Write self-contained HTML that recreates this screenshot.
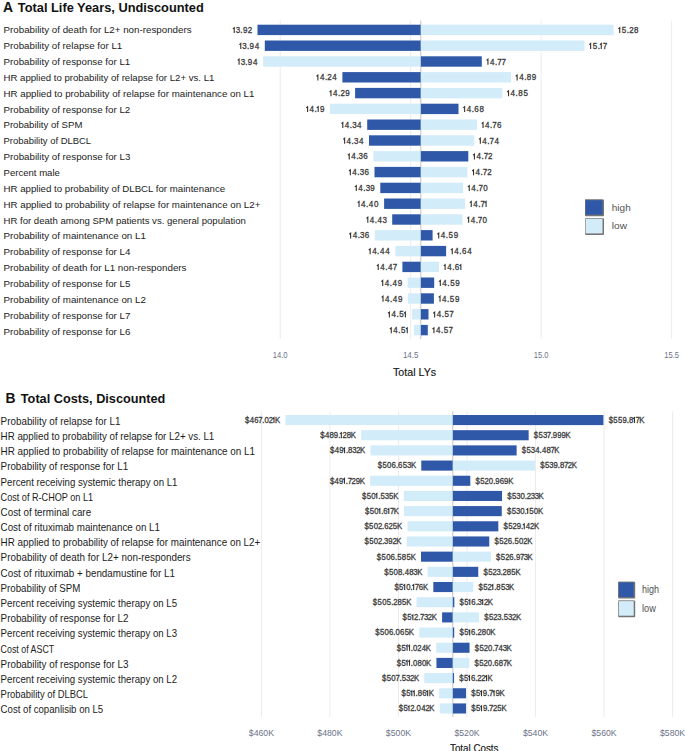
<!DOCTYPE html>
<html><head><meta charset="utf-8"><style>
*{margin:0;padding:0}
html,body{width:685px;height:751px;background:#fff;overflow:hidden}
svg{display:block;font-family:"Liberation Sans",sans-serif}
.d{fill:#2f58a8} .l{fill:#d3ecfa}
.g{fill:#ececec} .c{fill:#c2c2c2}
.v{fill:#3d3d3d;stroke:#3d3d3d;stroke-width:0.32px}
.one{fill:none;stroke:#333;stroke-width:1.1px}
.lab{fill:#1c1c1c}
.tk{fill:#6b7388}
.ttl{fill:#111}
.at{fill:#161616;stroke:#161616;stroke-width:0.15px}
.lt{fill:#505050}
</style></head>
<body><svg width="685" height="751" viewBox="0 0 685 751">
<rect class="g" x="279.70" y="20.70" width="1" height="318.30"/>
<text class="tk" x="280.20" y="358.30" font-size="9.4" textLength="14.80" lengthAdjust="spacingAndGlyphs" text-anchor="middle">14.0</text>
<rect class="g" x="410.17" y="20.70" width="1" height="318.30"/>
<text class="tk" x="410.67" y="358.30" font-size="9.4" textLength="15.50" lengthAdjust="spacingAndGlyphs" text-anchor="middle">14.5</text>
<rect class="g" x="540.64" y="20.70" width="1" height="318.30"/>
<text class="tk" x="541.14" y="358.30" font-size="9.4" textLength="14.80" lengthAdjust="spacingAndGlyphs" text-anchor="middle">15.0</text>
<rect class="g" x="671.11" y="20.70" width="1" height="318.30"/>
<text class="tk" x="671.61" y="358.30" font-size="9.4" textLength="14.80" lengthAdjust="spacingAndGlyphs" text-anchor="middle">15.5</text>
<rect class="c" x="420.30" y="20.70" width="1" height="318.30"/>
<rect class="d" x="257.50" y="24.70" width="163.30" height="10.40"/>
<rect class="l" x="420.80" y="24.70" width="192.80" height="10.40"/>
<text class="v" transform="scale(0.92,1)" x="256.34 261.28 264.10 269.31" y="33.10" font-size="8.7">3.92</text>
<path class="one" d="M232.84 28.81 L234.24 27.66 L234.24 33.10"/>
<text class="v" transform="scale(0.92,1)" x="675.84 681.30 683.91 689.17" y="33.10" font-size="8.7">5.28</text>
<path class="one" d="M618.34 28.81 L619.74 27.66 L619.74 33.10"/>
<text class="lab" transform="translate(3.50,33.20) scale(1,0.95)" x="0" y="0" font-size="9.74" textLength="188.10" lengthAdjust="spacingAndGlyphs">Probability of death for L2+ non-responders</text>
<rect class="d" x="264.80" y="40.50" width="156.00" height="10.40"/>
<rect class="l" x="420.80" y="40.50" width="163.70" height="10.40"/>
<text class="v" transform="scale(0.92,1)" x="263.45 268.39 271.21 276.86" y="48.90" font-size="8.7">3.94</text>
<path class="one" d="M239.39 44.61 L240.79 43.46 L240.79 48.90"/>
<text class="v" transform="scale(0.92,1)" x="644.21 649.67 655.12" y="48.90" font-size="8.7">5.7</text>
<path class="one" d="M589.24 44.61 L590.64 43.46 L590.64 48.90"/>
<path class="one" d="M599.86 44.61 L601.26 43.46 L601.26 48.90"/>
<text class="lab" transform="translate(3.50,49.06) scale(1,0.95)" x="0" y="0" font-size="9.74" textLength="118.80" lengthAdjust="spacingAndGlyphs">Probability of relapse for L1</text>
<rect class="l" x="263.10" y="56.30" width="157.70" height="10.40"/>
<rect class="d" x="420.80" y="56.30" width="61.00" height="10.40"/>
<text class="v" transform="scale(0.92,1)" x="261.60 266.54 269.36 275.02" y="64.70" font-size="8.7">3.94</text>
<path class="one" d="M237.69 60.41 L239.09 59.26 L239.09 64.70"/>
<text class="v" transform="scale(0.92,1)" x="532.57 537.99 540.41 545.06" y="64.70" font-size="8.7">4.77</text>
<path class="one" d="M486.54 60.41 L487.94 59.26 L487.94 64.70"/>
<text class="lab" transform="translate(3.50,64.92) scale(1,0.95)" x="0" y="0" font-size="9.74" textLength="126.80" lengthAdjust="spacingAndGlyphs">Probability of response for L1</text>
<rect class="d" x="342.40" y="72.10" width="78.40" height="10.40"/>
<rect class="l" x="420.80" y="72.10" width="90.20" height="10.40"/>
<text class="v" transform="scale(0.92,1)" x="347.74 353.15 355.76 361.21" y="80.50" font-size="8.7">4.24</text>
<path class="one" d="M316.49 76.21 L317.89 75.06 L317.89 80.50"/>
<text class="v" transform="scale(0.92,1)" x="564.31 569.73 572.59 578.06" y="80.50" font-size="8.7">4.89</text>
<path class="one" d="M515.74 76.21 L517.14 75.06 L517.14 80.50"/>
<text class="lab" transform="translate(3.50,80.78) scale(1,0.95)" x="0" y="0" font-size="9.74" textLength="210.90" lengthAdjust="spacingAndGlyphs">HR applied to probability of relapse for L2+ vs. L1</text>
<rect class="d" x="355.10" y="87.90" width="65.70" height="10.40"/>
<rect class="l" x="420.80" y="87.90" width="81.60" height="10.40"/>
<text class="v" transform="scale(0.92,1)" x="361.95 367.37 369.98 375.20" y="96.30" font-size="8.7">4.29</text>
<path class="one" d="M329.57 92.01 L330.97 90.86 L330.97 96.30"/>
<text class="v" transform="scale(0.92,1)" x="554.97 560.38 563.24 568.95" y="96.30" font-size="8.7">4.85</text>
<path class="one" d="M507.14 92.01 L508.54 90.86 L508.54 96.30"/>
<text class="lab" transform="translate(3.50,96.64) scale(1,0.95)" x="0" y="0" font-size="9.74" textLength="250.90" lengthAdjust="spacingAndGlyphs">HR applied to probability of relapse for maintenance on L1</text>
<rect class="l" x="329.90" y="103.70" width="90.90" height="10.40"/>
<rect class="d" x="420.80" y="103.70" width="37.70" height="10.40"/>
<text class="v" transform="scale(0.92,1)" x="336.55 341.96 347.81" y="112.10" font-size="8.7">4.9</text>
<path class="one" d="M306.20 107.81 L307.60 106.66 L307.60 112.10"/>
<path class="one" d="M316.77 107.81 L318.17 106.66 L318.17 112.10"/>
<text class="v" transform="scale(0.92,1)" x="507.25 512.66 515.53 521.11" y="112.10" font-size="8.7">4.68</text>
<path class="one" d="M463.24 107.81 L464.64 106.66 L464.64 112.10"/>
<text class="lab" transform="translate(3.50,112.50) scale(1,0.95)" x="0" y="0" font-size="9.74" textLength="126.80" lengthAdjust="spacingAndGlyphs">Probability of response for L2</text>
<rect class="d" x="367.20" y="119.50" width="53.60" height="10.40"/>
<rect class="l" x="420.80" y="119.50" width="56.10" height="10.40"/>
<text class="v" transform="scale(0.92,1)" x="374.82 380.23 382.80 388.17" y="127.90" font-size="8.7">4.34</text>
<path class="one" d="M341.41 123.61 L342.81 122.46 L342.81 127.90"/>
<text class="v" transform="scale(0.92,1)" x="527.25 532.66 535.08 540.18" y="127.90" font-size="8.7">4.76</text>
<path class="one" d="M481.64 123.61 L483.04 122.46 L483.04 127.90"/>
<text class="lab" transform="translate(3.50,128.36) scale(1,0.95)" x="0" y="0" font-size="9.74" textLength="78.90" lengthAdjust="spacingAndGlyphs">Probability of SPM</text>
<rect class="d" x="369.00" y="135.30" width="51.80" height="10.40"/>
<rect class="l" x="420.80" y="135.30" width="53.40" height="10.40"/>
<text class="v" transform="scale(0.92,1)" x="376.77 382.19 384.76 390.12" y="143.70" font-size="8.7">4.34</text>
<path class="one" d="M343.21 139.41 L344.61 138.26 L344.61 143.70"/>
<text class="v" transform="scale(0.92,1)" x="524.31 529.73 532.15 537.43" y="143.70" font-size="8.7">4.74</text>
<path class="one" d="M478.94 139.41 L480.34 138.26 L480.34 143.70"/>
<text class="lab" transform="translate(3.50,144.22) scale(1,0.95)" x="0" y="0" font-size="9.74" textLength="87.60" lengthAdjust="spacingAndGlyphs">Probability of DLBCL</text>
<rect class="l" x="373.40" y="151.10" width="47.40" height="10.40"/>
<rect class="d" x="420.80" y="151.10" width="47.50" height="10.40"/>
<text class="v" transform="scale(0.92,1)" x="381.81 387.22 389.79 394.97" y="159.50" font-size="8.7">4.36</text>
<path class="one" d="M347.84 155.21 L349.24 154.06 L349.24 159.50"/>
<text class="v" transform="scale(0.92,1)" x="517.90 523.31 525.74 530.57" y="159.50" font-size="8.7">4.72</text>
<path class="one" d="M473.04 155.21 L474.44 154.06 L474.44 159.50"/>
<text class="lab" transform="translate(3.50,160.08) scale(1,0.95)" x="0" y="0" font-size="9.74" textLength="126.90" lengthAdjust="spacingAndGlyphs">Probability of response for L3</text>
<rect class="d" x="374.50" y="166.90" width="46.30" height="10.40"/>
<rect class="l" x="420.80" y="166.90" width="46.60" height="10.40"/>
<text class="v" transform="scale(0.92,1)" x="383.00 388.42 390.99 396.17" y="175.30" font-size="8.7">4.36</text>
<path class="one" d="M348.94 171.01 L350.34 169.86 L350.34 175.30"/>
<text class="v" transform="scale(0.92,1)" x="516.92 522.34 524.76 529.59" y="175.30" font-size="8.7">4.72</text>
<path class="one" d="M472.14 171.01 L473.54 169.86 L473.54 175.30"/>
<text class="lab" transform="translate(3.50,175.94) scale(1,0.95)" x="0" y="0" font-size="9.74" textLength="56.40" lengthAdjust="spacingAndGlyphs">Percent male</text>
<rect class="d" x="380.30" y="182.70" width="40.50" height="10.40"/>
<rect class="l" x="420.80" y="182.70" width="42.30" height="10.40"/>
<text class="v" transform="scale(0.92,1)" x="389.47 394.88 397.45 402.59" y="191.10" font-size="8.7">4.39</text>
<path class="one" d="M354.89 186.81 L356.29 185.66 L356.29 191.10"/>
<text class="v" transform="scale(0.92,1)" x="512.25 517.66 520.08 525.21" y="191.10" font-size="8.7">4.70</text>
<path class="one" d="M467.84 186.81 L469.24 185.66 L469.24 191.10"/>
<text class="lab" transform="translate(3.50,191.80) scale(1,0.95)" x="0" y="0" font-size="9.74" textLength="221.60" lengthAdjust="spacingAndGlyphs">HR applied to probability of DLBCL for maintenance</text>
<rect class="d" x="384.10" y="198.50" width="36.70" height="10.40"/>
<rect class="l" x="420.80" y="198.50" width="44.30" height="10.40"/>
<text class="v" transform="scale(0.92,1)" x="392.49 397.90 400.95 406.63" y="206.90" font-size="8.7">4.40</text>
<path class="one" d="M357.66 202.61 L359.06 201.46 L359.06 206.90"/>
<text class="v" transform="scale(0.92,1)" x="514.42 519.84 522.26" y="206.90" font-size="8.7">4.7</text>
<path class="one" d="M469.84 202.61 L471.24 201.46 L471.24 206.90"/>
<path class="one" d="M484.69 202.61 L486.09 201.46 L486.09 206.90"/>
<text class="lab" transform="translate(3.50,207.66) scale(1,0.95)" x="0" y="0" font-size="9.74" textLength="256.90" lengthAdjust="spacingAndGlyphs">HR applied to probability of relapse for maintenance on L2+</text>
<rect class="d" x="392.20" y="214.30" width="28.60" height="10.40"/>
<rect class="l" x="420.80" y="214.30" width="41.70" height="10.40"/>
<text class="v" transform="scale(0.92,1)" x="401.99 407.41 410.45 415.81" y="222.70" font-size="8.7">4.43</text>
<path class="one" d="M366.41 218.41 L367.81 217.26 L367.81 222.70"/>
<text class="v" transform="scale(0.92,1)" x="511.60 517.01 519.43 524.56" y="222.70" font-size="8.7">4.70</text>
<path class="one" d="M467.24 218.41 L468.64 217.26 L468.64 222.70"/>
<text class="lab" transform="translate(3.50,223.52) scale(1,0.95)" x="0" y="0" font-size="9.74" textLength="242.40" lengthAdjust="spacingAndGlyphs">HR for death among SPM patients vs. general population</text>
<rect class="l" x="374.80" y="230.10" width="46.00" height="10.40"/>
<rect class="d" x="420.80" y="230.10" width="11.80" height="10.40"/>
<text class="v" transform="scale(0.92,1)" x="383.33 388.74 391.31 396.50" y="238.50" font-size="8.7">4.36</text>
<path class="one" d="M349.24 234.21 L350.64 233.06 L350.64 238.50"/>
<text class="v" transform="scale(0.92,1)" x="479.10 484.51 487.56 493.21" y="238.50" font-size="8.7">4.59</text>
<path class="one" d="M437.34 234.21 L438.74 233.06 L438.74 238.50"/>
<text class="lab" transform="translate(3.50,239.38) scale(1,0.95)" x="0" y="0" font-size="9.74" textLength="142.40" lengthAdjust="spacingAndGlyphs">Probability of maintenance on L1</text>
<rect class="l" x="395.40" y="245.90" width="25.40" height="10.40"/>
<rect class="d" x="420.80" y="245.90" width="25.30" height="10.40"/>
<text class="v" transform="scale(0.92,1)" x="404.52 409.93 412.98 418.82" y="254.30" font-size="8.7">4.44</text>
<path class="one" d="M368.73 250.01 L370.13 248.86 L370.13 254.30"/>
<text class="v" transform="scale(0.92,1)" x="493.77 499.18 502.05 507.82" y="254.30" font-size="8.7">4.64</text>
<path class="one" d="M450.84 250.01 L452.24 248.86 L452.24 254.30"/>
<text class="lab" transform="translate(3.50,255.24) scale(1,0.95)" x="0" y="0" font-size="9.74" textLength="126.90" lengthAdjust="spacingAndGlyphs">Probability of response for L4</text>
<rect class="d" x="402.40" y="261.70" width="18.40" height="10.40"/>
<rect class="l" x="420.80" y="261.70" width="18.20" height="10.40"/>
<text class="v" transform="scale(0.92,1)" x="413.32 418.73 421.78 426.99" y="270.10" font-size="8.7">4.47</text>
<path class="one" d="M376.82 265.81 L378.22 264.66 L378.22 270.10"/>
<text class="v" transform="scale(0.92,1)" x="486.05 491.47 494.33" y="270.10" font-size="8.7">4.6</text>
<path class="one" d="M443.74 265.81 L445.14 264.66 L445.14 270.10"/>
<path class="one" d="M459.45 265.81 L460.85 264.66 L460.85 270.10"/>
<text class="lab" transform="translate(3.50,271.10) scale(1,0.95)" x="0" y="0" font-size="9.74" textLength="183.00" lengthAdjust="spacingAndGlyphs">Probability of death for L1 non-responders</text>
<rect class="l" x="407.60" y="277.50" width="13.20" height="10.40"/>
<rect class="d" x="420.80" y="277.50" width="13.40" height="10.40"/>
<text class="v" transform="scale(0.92,1)" x="418.19 423.61 426.66 432.26" y="285.90" font-size="8.7">4.49</text>
<path class="one" d="M381.31 281.61 L382.71 280.46 L382.71 285.90"/>
<text class="v" transform="scale(0.92,1)" x="480.83 486.25 489.30 494.95" y="285.90" font-size="8.7">4.59</text>
<path class="one" d="M438.94 281.61 L440.34 280.46 L440.34 285.90"/>
<text class="lab" transform="translate(3.50,286.96) scale(1,0.95)" x="0" y="0" font-size="9.74" textLength="126.90" lengthAdjust="spacingAndGlyphs">Probability of response for L5</text>
<rect class="l" x="407.90" y="293.30" width="12.90" height="10.40"/>
<rect class="d" x="420.80" y="293.30" width="13.10" height="10.40"/>
<text class="v" transform="scale(0.92,1)" x="418.52 423.93 426.98 432.59" y="301.70" font-size="8.7">4.49</text>
<path class="one" d="M381.61 297.41 L383.01 296.26 L383.01 301.70"/>
<text class="v" transform="scale(0.92,1)" x="480.51 485.92 488.98 494.63" y="301.70" font-size="8.7">4.59</text>
<path class="one" d="M438.64 297.41 L440.04 296.26 L440.04 301.70"/>
<text class="lab" transform="translate(3.50,302.82) scale(1,0.95)" x="0" y="0" font-size="9.74" textLength="142.40" lengthAdjust="spacingAndGlyphs">Probability of maintenance on L2</text>
<rect class="l" x="412.10" y="309.10" width="8.70" height="10.40"/>
<rect class="d" x="420.80" y="309.10" width="7.70" height="10.40"/>
<text class="v" transform="scale(0.92,1)" x="425.43 430.85 433.90" y="317.50" font-size="8.7">4.5</text>
<path class="one" d="M387.97 313.21 L389.37 312.06 L389.37 317.50"/>
<path class="one" d="M403.96 313.21 L405.36 312.06 L405.36 317.50"/>
<text class="v" transform="scale(0.92,1)" x="474.64 480.05 483.11 488.36" y="317.50" font-size="8.7">4.57</text>
<path class="one" d="M433.24 313.21 L434.64 312.06 L434.64 317.50"/>
<text class="lab" transform="translate(3.50,318.68) scale(1,0.95)" x="0" y="0" font-size="9.74" textLength="126.90" lengthAdjust="spacingAndGlyphs">Probability of response for L7</text>
<rect class="l" x="414.00" y="324.90" width="6.80" height="10.40"/>
<rect class="d" x="420.80" y="324.90" width="7.00" height="10.40"/>
<text class="v" transform="scale(0.92,1)" x="427.50 432.91 435.97" y="333.30" font-size="8.7">4.5</text>
<path class="one" d="M389.87 329.01 L391.27 327.86 L391.27 333.30"/>
<path class="one" d="M405.86 329.01 L407.26 327.86 L407.26 333.30"/>
<text class="v" transform="scale(0.92,1)" x="473.88 479.29 482.35 487.60" y="333.30" font-size="8.7">4.57</text>
<path class="one" d="M432.54 329.01 L433.94 327.86 L433.94 333.30"/>
<text class="lab" transform="translate(3.50,334.54) scale(1,0.95)" x="0" y="0" font-size="9.74" textLength="126.90" lengthAdjust="spacingAndGlyphs">Probability of response for L6</text>
<text class="ttl" x="3.00" y="12.40" font-size="13.9" font-weight="bold">A</text>
<text class="ttl" x="17.80" y="12.30" font-size="12.8" textLength="186.00" lengthAdjust="spacingAndGlyphs" font-weight="bold">Total Life Years, Undiscounted</text>
<text class="at" x="393.00" y="375.60" font-size="10.67" textLength="43.10" lengthAdjust="spacingAndGlyphs">Total LYs</text>
<rect x="585.00" y="199.50" width="19.00" height="16.70" rx="0.8" fill="#747474"/>
<rect x="585.00" y="199.50" width="17.60" height="15.30" fill="#66707f"/>
<rect class="d" x="585.80" y="200.30" width="16.60" height="14.30"/>
<rect x="585.00" y="218.20" width="19.00" height="16.70" rx="0.8" fill="#747474"/>
<rect x="585.00" y="218.20" width="17.60" height="15.30" fill="#9a9a9a"/>
<rect class="l" x="585.80" y="219.00" width="16.60" height="14.30"/>
<text class="lt" x="611.80" y="210.90" font-size="9.9" textLength="18.90" lengthAdjust="spacingAndGlyphs">high</text>
<text class="lt" x="611.80" y="228.90" font-size="9.9" textLength="15.20" lengthAdjust="spacingAndGlyphs">low</text>
<rect class="g" x="260.90" y="411.30" width="1" height="305.60"/>
<text class="tk" x="261.40" y="736.00" font-size="9.2" textLength="25.20" lengthAdjust="spacingAndGlyphs" text-anchor="middle">$460K</text>
<rect class="g" x="329.43" y="411.30" width="1" height="305.60"/>
<text class="tk" x="329.93" y="736.00" font-size="9.2" textLength="25.20" lengthAdjust="spacingAndGlyphs" text-anchor="middle">$480K</text>
<rect class="g" x="397.96" y="411.30" width="1" height="305.60"/>
<text class="tk" x="398.46" y="736.00" font-size="9.2" textLength="25.20" lengthAdjust="spacingAndGlyphs" text-anchor="middle">$500K</text>
<rect class="g" x="466.49" y="411.30" width="1" height="305.60"/>
<text class="tk" x="466.99" y="736.00" font-size="9.2" textLength="25.20" lengthAdjust="spacingAndGlyphs" text-anchor="middle">$520K</text>
<rect class="g" x="535.02" y="411.30" width="1" height="305.60"/>
<text class="tk" x="535.52" y="736.00" font-size="9.2" textLength="25.20" lengthAdjust="spacingAndGlyphs" text-anchor="middle">$540K</text>
<rect class="g" x="603.55" y="411.30" width="1" height="305.60"/>
<text class="tk" x="604.05" y="736.00" font-size="9.2" textLength="25.20" lengthAdjust="spacingAndGlyphs" text-anchor="middle">$560K</text>
<rect class="g" x="672.08" y="411.30" width="1" height="305.60"/>
<text class="tk" x="672.58" y="736.00" font-size="9.2" textLength="25.20" lengthAdjust="spacingAndGlyphs" text-anchor="middle">$580K</text>
<rect class="c" x="452.30" y="411.30" width="1" height="305.60"/>
<rect class="l" x="285.46" y="415.00" width="167.34" height="10.10"/>
<rect class="d" x="452.80" y="415.00" width="150.62" height="10.10"/>
<text class="v" transform="scale(0.9,1)" x="272.24 277.45 282.47 287.05 291.48 293.93 298.64 305.67" y="422.95" font-size="8.6">$467.02K</text>
<path class="one" d="M272.60 418.73 L274.00 417.58 L274.00 422.95"/>
<text class="v" transform="scale(0.9,1)" x="676.27 681.48 686.71 691.74 696.51 698.93 706.13 710.31" y="422.95" font-size="8.6">$559.87K</text>
<path class="one" d="M633.05 418.73 L634.45 417.58 L634.45 422.95"/>
<text class="lab" x="0.60" y="424.85" font-size="10.1" textLength="119.90" lengthAdjust="spacingAndGlyphs">Probability of relapse for L1</text>
<rect class="l" x="361.21" y="430.18" width="91.59" height="10.10"/>
<rect class="d" x="452.80" y="430.18" width="75.86" height="10.10"/>
<text class="v" transform="scale(0.9,1)" x="355.85 361.06 366.08 370.94 375.71 380.60 385.28 389.84" y="438.13" font-size="8.6">$489.28K</text>
<path class="one" d="M339.93 433.91 L341.33 432.76 L341.33 438.13"/>
<text class="v" transform="scale(0.9,1)" x="593.20 598.42 603.22 607.43 611.86 614.25 619.07 623.89 628.41" y="438.13" font-size="8.6">$537.999K</text>
<text class="lab" x="0.60" y="440.03" font-size="10.1" textLength="213.70" lengthAdjust="spacingAndGlyphs">HR applied to probability of relapse for L2+ vs. L1</text>
<rect class="l" x="370.47" y="445.36" width="82.33" height="10.10"/>
<rect class="d" x="452.80" y="445.36" width="63.83" height="10.10"/>
<text class="v" transform="scale(0.9,1)" x="366.70 371.91 376.89 384.35 386.77 391.42 395.79 400.13" y="453.31" font-size="8.6">$49.832K</text>
<path class="one" d="M343.18 449.09 L344.58 447.94 L344.58 453.31"/>
<text class="v" transform="scale(0.9,1)" x="579.83 585.04 589.85 594.62 599.55 602.14 607.16 611.67 615.85" y="453.31" font-size="8.6">$534.487K</text>
<text class="lab" x="0.60" y="455.21" font-size="10.1" textLength="254.40" lengthAdjust="spacingAndGlyphs">HR applied to probability of relapse for maintenance on L1</text>
<rect class="d" x="421.26" y="460.54" width="31.54" height="10.10"/>
<rect class="l" x="452.80" y="460.54" width="82.28" height="10.10"/>
<text class="v" transform="scale(0.9,1)" x="419.82 425.03 430.12 435.06 439.93 442.36 447.50 452.30 456.56" y="468.49" font-size="8.6">$506.653K</text>
<text class="v" transform="scale(0.9,1)" x="600.33 605.55 610.35 614.91 619.68 622.10 626.62 630.92 635.25" y="468.49" font-size="8.6">$539.872K</text>
<text class="lab" x="0.60" y="470.39" font-size="10.1" textLength="127.50" lengthAdjust="spacingAndGlyphs">Probability of response for L1</text>
<rect class="l" x="370.12" y="475.72" width="82.68" height="10.10"/>
<rect class="d" x="452.80" y="475.72" width="17.51" height="10.10"/>
<text class="v" transform="scale(0.9,1)" x="366.60 371.81 376.79 384.25 386.28 390.58 395.22 399.74" y="483.67" font-size="8.6">$49.729K</text>
<path class="one" d="M343.09 479.45 L344.49 478.30 L344.49 483.67"/>
<text class="v" transform="scale(0.9,1)" x="528.37 533.58 538.41 543.13 547.97 550.36 555.22 560.14 564.66" y="483.67" font-size="8.6">$520.969K</text>
<text class="lab" x="0.60" y="485.57" font-size="10.1" textLength="176.90" lengthAdjust="spacingAndGlyphs">Percent receiving systemic therapy on L1</text>
<rect class="l" x="403.72" y="490.90" width="49.08" height="10.10"/>
<rect class="d" x="452.80" y="490.90" width="49.25" height="10.10"/>
<text class="v" transform="scale(0.9,1)" x="402.34 407.56 412.65 420.18 422.78 427.58 432.36 437.07" y="498.85" font-size="8.6">$50.535K</text>
<path class="one" d="M375.43 494.63 L376.83 493.48 L376.83 498.85"/>
<text class="v" transform="scale(0.9,1)" x="563.64 568.85 573.65 578.28 583.13 585.33 589.75 594.10 598.35" y="498.85" font-size="8.6">$530.233K</text>
<text class="lab" x="0.60" y="500.75" font-size="10.1" textLength="92.50" lengthAdjust="spacingAndGlyphs">Cost of R-CHOP on L1</text>
<rect class="l" x="404.00" y="506.08" width="48.80" height="10.10"/>
<rect class="d" x="452.80" y="506.08" width="48.97" height="10.10"/>
<text class="v" transform="scale(0.9,1)" x="405.68 410.89 415.98 423.52 425.94 433.21 437.38" y="514.03" font-size="8.6">$50.67K</text>
<path class="one" d="M378.43 509.81 L379.83 508.66 L379.83 514.03"/>
<path class="one" d="M387.42 509.81 L388.82 508.66 L388.82 514.03"/>
<text class="v" transform="scale(0.9,1)" x="563.32 568.53 573.34 577.97 582.82 588.10 593.19 597.78" y="514.03" font-size="8.6">$530.50K</text>
<path class="one" d="M526.32 509.81 L527.72 508.66 L527.72 514.03"/>
<text class="lab" x="0.60" y="515.93" font-size="10.1" textLength="90.50" lengthAdjust="spacingAndGlyphs">Cost of terminal care</text>
<rect class="l" x="407.45" y="521.26" width="45.35" height="10.10"/>
<rect class="d" x="452.80" y="521.26" width="45.52" height="10.10"/>
<text class="v" transform="scale(0.9,1)" x="404.88 410.09 415.19 419.90 424.49 426.91 431.65 436.51 441.22" y="529.21" font-size="8.6">$502.625K</text>
<text class="v" transform="scale(0.9,1)" x="559.48 564.69 569.53 574.17 578.94 584.22 589.02 593.36" y="529.21" font-size="8.6">$529.42K</text>
<path class="one" d="M522.84 524.99 L524.24 523.84 L524.24 529.21"/>
<text class="lab" x="0.60" y="531.11" font-size="10.1" textLength="159.40" lengthAdjust="spacingAndGlyphs">Cost of rituximab maintenance on L1</text>
<rect class="l" x="406.66" y="536.44" width="46.14" height="10.10"/>
<rect class="d" x="452.80" y="536.44" width="36.47" height="10.10"/>
<text class="v" transform="scale(0.9,1)" x="405.03 410.24 415.33 420.04 424.63 426.80 431.36 436.00 440.33" y="544.39" font-size="8.6">$502.392K</text>
<text class="v" transform="scale(0.9,1)" x="549.43 554.64 559.48 564.16 569.04 571.63 576.72 581.44 585.77" y="544.39" font-size="8.6">$526.502K</text>
<text class="lab" x="0.60" y="546.29" font-size="10.1" textLength="259.70" lengthAdjust="spacingAndGlyphs">HR applied to probability of relapse for maintenance on L2+</text>
<rect class="d" x="421.02" y="551.62" width="31.78" height="10.10"/>
<rect class="l" x="452.80" y="551.62" width="38.08" height="10.10"/>
<text class="v" transform="scale(0.9,1)" x="418.74 423.95 429.04 433.98 438.85 441.45 446.51 451.58 456.30" y="559.57" font-size="8.6">$506.585K</text>
<text class="v" transform="scale(0.9,1)" x="551.22 556.44 561.27 565.95 570.83 573.21 577.69 581.95 586.21" y="559.57" font-size="8.6">$526.973K</text>
<text class="lab" x="0.60" y="561.47" font-size="10.1" textLength="190.00" lengthAdjust="spacingAndGlyphs">Probability of death for L2+ non-responders</text>
<rect class="l" x="427.53" y="566.80" width="25.27" height="10.10"/>
<rect class="d" x="452.80" y="566.80" width="25.45" height="10.10"/>
<text class="v" transform="scale(0.9,1)" x="426.96 432.17 437.27 442.20 447.01 449.60 454.62 459.27 463.52" y="574.75" font-size="8.6">$508.483K</text>
<text class="v" transform="scale(0.9,1)" x="537.18 542.40 547.23 551.66 556.17 558.37 563.04 568.12 572.83" y="574.75" font-size="8.6">$523.285K</text>
<text class="lab" x="0.60" y="576.65" font-size="10.1" textLength="174.40" lengthAdjust="spacingAndGlyphs">Cost of rituximab + bendamustine for L1</text>
<rect class="d" x="433.33" y="581.98" width="19.47" height="10.10"/>
<rect class="l" x="452.80" y="581.98" width="20.54" height="10.10"/>
<text class="v" transform="scale(0.9,1)" x="438.26 443.48 451.26 456.10 460.82 465.35 469.97" y="589.93" font-size="8.6">$50.76K</text>
<path class="one" d="M403.29 585.71 L404.69 584.56 L404.69 589.93"/>
<path class="one" d="M412.28 585.71 L413.68 584.56 L413.68 589.93"/>
<text class="v" transform="scale(0.9,1)" x="531.73 536.94 541.78 549.06 551.48 556.56 561.36 565.62" y="589.93" font-size="8.6">$52.853K</text>
<path class="one" d="M491.42 585.71 L492.82 584.56 L492.82 589.93"/>
<text class="lab" x="0.60" y="591.83" font-size="10.1" textLength="79.80" lengthAdjust="spacingAndGlyphs">Probability of SPM</text>
<rect class="l" x="416.57" y="597.16" width="36.23" height="10.10"/>
<rect class="d" x="452.80" y="597.16" width="1.55" height="10.10"/>
<text class="v" transform="scale(0.9,1)" x="414.30 419.51 424.60 429.71 434.68 436.88 441.56 446.63 451.35" y="605.11" font-size="8.6">$505.285K</text>
<text class="v" transform="scale(0.9,1)" x="510.64 515.85 523.60 528.48 530.64 537.71 542.04" y="605.11" font-size="8.6">$56.32K</text>
<path class="one" d="M468.42 600.89 L469.82 599.74 L469.82 605.11"/>
<path class="one" d="M481.32 600.89 L482.72 599.74 L482.72 605.11"/>
<text class="lab" x="0.60" y="607.01" font-size="10.1" textLength="176.50" lengthAdjust="spacingAndGlyphs">Percent receiving systemic therapy on L5</text>
<rect class="d" x="442.09" y="612.34" width="10.71" height="10.10"/>
<rect class="l" x="452.80" y="612.34" width="26.29" height="10.10"/>
<text class="v" transform="scale(0.9,1)" x="447.36 452.57 460.10 464.69 466.72 470.99 475.37 479.70" y="620.29" font-size="8.6">$52.732K</text>
<path class="one" d="M411.48 616.07 L412.88 614.92 L412.88 620.29"/>
<text class="v" transform="scale(0.9,1)" x="538.12 543.34 548.17 552.60 557.11 559.70 564.51 568.88 573.22" y="620.29" font-size="8.6">$523.532K</text>
<text class="lab" x="0.60" y="622.19" font-size="10.1" textLength="127.80" lengthAdjust="spacingAndGlyphs">Probability of response for L2</text>
<rect class="l" x="419.24" y="627.52" width="33.56" height="10.10"/>
<rect class="d" x="452.80" y="627.52" width="1.44" height="10.10"/>
<text class="v" transform="scale(0.9,1)" x="416.96 422.17 427.26 432.20 437.07 439.53 444.46 449.60 454.32" y="635.47" font-size="8.6">$506.065K</text>
<text class="v" transform="scale(0.9,1)" x="510.51 515.73 523.48 528.35 530.55 535.23 540.16 544.75" y="635.47" font-size="8.6">$56.280K</text>
<path class="one" d="M468.31 631.25 L469.71 630.10 L469.71 635.47"/>
<text class="lab" x="0.60" y="637.37" font-size="10.1" textLength="176.50" lengthAdjust="spacingAndGlyphs">Percent receiving systemic therapy on L3</text>
<rect class="l" x="436.23" y="642.70" width="16.57" height="10.10"/>
<rect class="d" x="452.80" y="642.70" width="16.74" height="10.10"/>
<text class="v" transform="scale(0.9,1)" x="440.95 446.16 456.51 458.96 463.67 468.52 473.20" y="650.65" font-size="8.6">$5.024K</text>
<path class="one" d="M405.70 646.43 L407.10 645.28 L407.10 650.65"/>
<path class="one" d="M408.12 646.43 L409.52 645.28 L409.52 650.65"/>
<text class="v" transform="scale(0.9,1)" x="527.50 532.72 537.55 542.27 547.11 549.14 553.84 558.60 562.86" y="650.65" font-size="8.6">$520.743K</text>
<text class="lab" x="0.60" y="652.55" font-size="10.1" textLength="53.60" lengthAdjust="spacingAndGlyphs">Cost of ASCT</text>
<rect class="d" x="436.43" y="657.88" width="16.37" height="10.10"/>
<rect class="l" x="452.80" y="657.88" width="16.54" height="10.10"/>
<text class="v" transform="scale(0.9,1)" x="440.94 446.15 456.50 458.95 463.89 468.82 473.41" y="665.83" font-size="8.6">$5.080K</text>
<path class="one" d="M405.70 661.61 L407.10 660.46 L407.10 665.83"/>
<path class="one" d="M408.12 661.61 L409.52 660.46 L409.52 665.83"/>
<text class="v" transform="scale(0.9,1)" x="527.29 532.50 537.34 542.05 546.90 549.32 554.29 558.80 562.98" y="665.83" font-size="8.6">$520.687K</text>
<text class="lab" x="0.60" y="667.73" font-size="10.1" textLength="127.80" lengthAdjust="spacingAndGlyphs">Probability of response for L3</text>
<rect class="l" x="424.27" y="673.06" width="28.53" height="10.10"/>
<rect class="d" x="452.80" y="673.06" width="1.24" height="10.10"/>
<text class="v" transform="scale(0.9,1)" x="424.51 429.72 434.81 439.36 443.79 446.39 451.19 455.57 459.90" y="681.01" font-size="8.6">$507.532K</text>
<text class="v" transform="scale(0.9,1)" x="510.29 515.50 523.25 528.13 530.33 534.78 541.81" y="681.01" font-size="8.6">$56.22K</text>
<path class="one" d="M468.11 676.79 L469.51 675.64 L469.51 681.01"/>
<path class="one" d="M485.12 676.79 L486.52 675.64 L486.52 681.01"/>
<text class="lab" x="0.60" y="682.91" font-size="10.1" textLength="176.50" lengthAdjust="spacingAndGlyphs">Percent receiving systemic therapy on L2</text>
<rect class="l" x="439.10" y="688.24" width="13.70" height="10.10"/>
<rect class="d" x="452.80" y="688.24" width="13.23" height="10.10"/>
<text class="v" transform="scale(0.9,1)" x="446.19 451.40 461.75 464.17 469.08 476.38" y="696.19" font-size="8.6">$5.86K</text>
<path class="one" d="M410.42 691.97 L411.82 690.82 L411.82 696.19"/>
<path class="one" d="M412.84 691.97 L414.24 690.82 L414.24 696.19"/>
<path class="one" d="M426.24 691.97 L427.64 690.82 L427.64 696.19"/>
<text class="v" transform="scale(0.9,1)" x="523.61 528.82 536.53 541.30 543.33 550.51 555.02" y="696.19" font-size="8.6">$59.79K</text>
<path class="one" d="M480.10 691.97 L481.50 690.82 L481.50 696.19"/>
<path class="one" d="M492.68 691.97 L494.08 690.82 L494.08 696.19"/>
<text class="lab" x="0.60" y="698.09" font-size="10.1" textLength="87.50" lengthAdjust="spacingAndGlyphs">Probability of DLBCL</text>
<rect class="l" x="439.72" y="703.42" width="13.08" height="10.10"/>
<rect class="d" x="452.80" y="703.42" width="13.25" height="10.10"/>
<text class="v" transform="scale(0.9,1)" x="443.06 448.27 455.79 460.39 462.84 467.94 472.74 477.07" y="711.37" font-size="8.6">$52.042K</text>
<path class="one" d="M407.60 707.15 L409.00 706.00 L409.00 711.37"/>
<text class="v" transform="scale(0.9,1)" x="523.63 528.84 536.55 541.33 543.36 547.66 552.51 557.22" y="711.37" font-size="8.6">$59.725K</text>
<path class="one" d="M480.12 707.15 L481.52 706.00 L481.52 711.37"/>
<text class="lab" x="0.60" y="713.27" font-size="10.1" textLength="102.60" lengthAdjust="spacingAndGlyphs">Cost of copanlisib on L5</text>
<text class="ttl" x="5.60" y="403.40" font-size="13.8" font-weight="bold">B</text>
<text class="ttl" x="20.80" y="403.40" font-size="12.7" textLength="144.60" lengthAdjust="spacingAndGlyphs" font-weight="bold">Total Costs, Discounted</text>
<text class="at" x="450.00" y="751.50" font-size="10.0" textLength="48.50" lengthAdjust="spacingAndGlyphs">Total Costs</text>
<rect x="618.20" y="581.80" width="17.00" height="16.80" rx="0.8" fill="#747474"/>
<rect x="618.20" y="581.80" width="15.60" height="15.40" fill="#66707f"/>
<rect class="d" x="619.00" y="582.60" width="14.60" height="14.40"/>
<rect x="618.20" y="600.40" width="17.00" height="16.80" rx="0.8" fill="#747474"/>
<rect x="618.20" y="600.40" width="15.60" height="15.40" fill="#9a9a9a"/>
<rect class="l" x="619.00" y="601.20" width="14.60" height="14.40"/>
<text class="lt" x="642.00" y="593.10" font-size="10.0" textLength="17.00" lengthAdjust="spacingAndGlyphs">high</text>
<text class="lt" x="642.00" y="611.90" font-size="10.0" textLength="13.80" lengthAdjust="spacingAndGlyphs">low</text>
</svg></body></html>
